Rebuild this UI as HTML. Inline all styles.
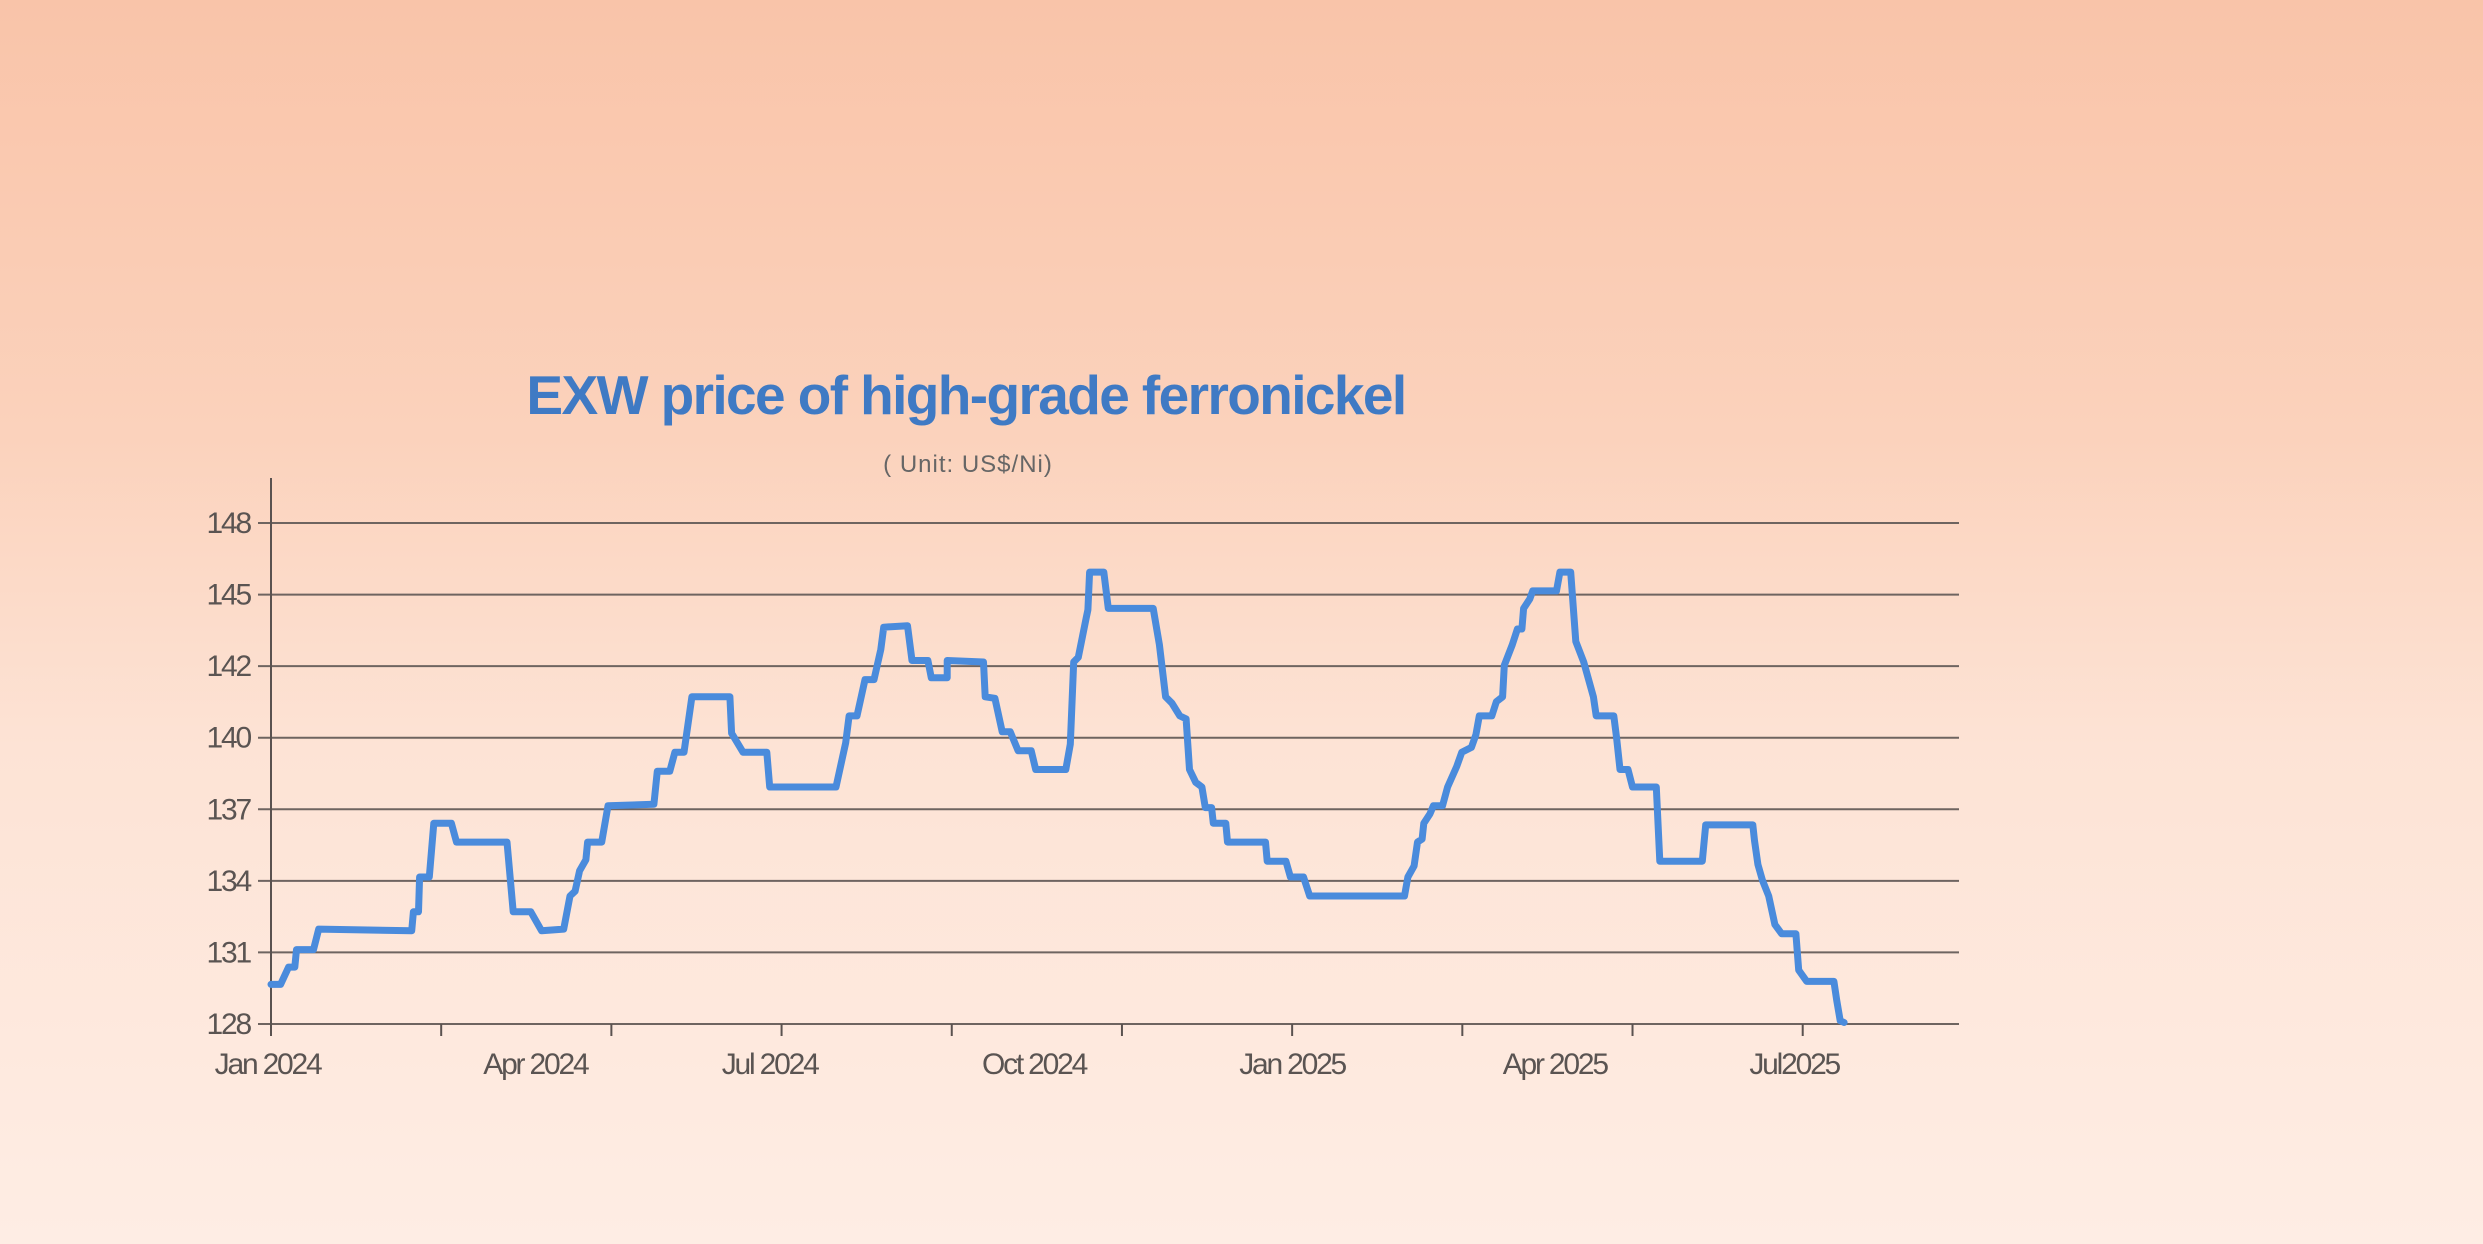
<!DOCTYPE html>
<html><head><meta charset="utf-8"><style>
html,body{margin:0;padding:0}
body{width:2483px;height:1244px;overflow:hidden;background:linear-gradient(180deg,#f9c4a9 0%,#fbd2bc 35%,#fde3d5 60%,#feede4 100%);font-family:"Liberation Sans",sans-serif}
svg{position:absolute;left:0;top:0}
</style></head><body>
<svg id="chart" width="2483" height="1244">
<text x="966" y="414" text-anchor="middle" font-size="55" font-weight="bold" fill="#3f7ac4" letter-spacing="-1.6">EXW price of high-grade ferronickel</text>
<text x="968" y="472" text-anchor="middle" font-size="24" fill="#666" letter-spacing="1">( Unit: US$/Ni)</text>
<g id="grid"></g><g id="axes"></g><g id="series"></g>
</svg>
<script>
const yTickLabels=["128","131","134","137","140","142","145","148"];
const xLabels=["Jan 2024","Apr 2024","Jul 2024","Oct 2024","Jan 2025","Apr 2025","Jul2025"];
const xLabelMonths=[-0.06,4.66,8.79,13.45,18.0,22.63,26.85];
const xTickMonths=[0,3,6,9,12,15,18,21,24,27];
const months=[0,0.17,0.31,0.42,0.45,0.75,0.84,2.48,2.51,2.60,2.62,2.79,2.87,3.18,3.27,4.16,4.27,4.58,4.77,5.16,5.27,5.36,5.44,5.55,5.58,5.83,5.94,6.75,6.81,7.03,7.12,7.28,7.42,8.09,8.12,8.32,8.74,8.79,9.96,10.13,10.19,10.33,10.47,10.63,10.75,10.80,11.22,11.30,11.58,11.64,11.92,11.92,12.56,12.59,12.76,12.89,13.03,13.17,13.40,13.48,14.01,14.09,14.15,14.23,14.37,14.40,14.43,14.68,14.76,15.55,15.66,15.77,15.88,16.02,16.13,16.19,16.30,16.41,16.47,16.58,16.61,16.83,16.86,17.53,17.56,17.89,17.97,18.20,18.31,19.98,20.04,20.15,20.21,20.29,20.32,20.43,20.49,20.65,20.74,20.90,20.99,21.16,21.24,21.30,21.52,21.60,21.71,21.74,21.88,21.97,22.05,22.08,22.19,22.24,22.66,22.72,22.91,23.00,23.14,23.31,23.36,23.67,23.72,23.78,23.92,24.00,24.42,24.48,25.23,25.29,26.12,26.15,26.21,26.29,26.40,26.51,26.63,26.88,26.93,27.07,27.55,27.60,27.66,27.73];
const prices=[129.58,129.58,130.27,130.27,130.97,130.97,131.79,131.72,132.48,132.48,133.87,133.87,136.01,136.01,135.26,135.26,132.48,132.48,131.72,131.79,133.11,133.30,134.12,134.56,135.26,135.26,136.71,136.77,138.09,138.09,138.85,138.85,141.06,141.06,139.61,138.85,138.85,137.46,137.46,139.23,140.30,140.30,141.75,141.75,142.95,143.84,143.90,142.51,142.51,141.82,141.82,142.51,142.45,141.06,141.00,139.67,139.67,138.91,138.91,138.16,138.16,139.17,142.45,142.64,144.21,144.53,146.04,146.04,144.59,144.59,143.14,141.06,140.81,140.30,140.18,138.16,137.65,137.46,136.64,136.64,136.01,136.01,135.26,135.26,134.50,134.50,133.87,133.87,133.11,133.11,133.87,134.31,135.26,135.38,136.01,136.39,136.71,136.71,137.46,138.28,138.85,139.04,139.55,140.30,140.30,140.87,141.06,142.32,143.14,143.77,143.77,144.59,144.97,145.29,145.29,146.04,146.04,143.27,142.45,141.06,140.30,140.30,139.42,138.16,138.16,137.46,137.46,134.50,134.50,135.95,135.95,135.32,134.37,133.74,133.11,131.97,131.60,131.60,130.15,129.70,129.70,128.95,128.13,128.06];
const NS="http://www.w3.org/2000/svg";
const X0=271,MW=56.73,YB=1024,YT=523,V0=128,V1=148;
function xs(m){return X0+m*MW;}
function ys(v){return YB-(v-V0)/(V1-V0)*(YB-YT);}
function mk(tag,attrs,parent){const e=document.createElementNS(NS,tag);for(const k in attrs)e.setAttribute(k,attrs[k]);parent.appendChild(e);return e;}
const grid=document.getElementById('grid'),axes=document.getElementById('axes'),series=document.getElementById('series');
yTickLabels.forEach((lab,i)=>{
  const y=YB-i*(YB-YT)/(yTickLabels.length-1);
  const l=mk('line',{x1:258,x2:1959,y1:y,y2:y,stroke:'#6e6460','stroke-width':2},grid);
  
  
  const t=mk('text',{x:250,y:y+10,'text-anchor':'end','font-size':30,fill:'#5a5452','letter-spacing':-2.2},axes);
  t.textContent=lab;
  
  
});
const ax=mk('line',{x1:X0,x2:X0,y1:478,y2:1036,stroke:'#5a5250','stroke-width':2},axes);


xTickMonths.forEach(m=>{
  const tk=mk('line',{x1:xs(m),x2:xs(m),y1:YB,y2:1036,stroke:'#5a5250','stroke-width':2},axes);
  
  
});
xLabels.forEach((lab,i)=>{
  const t=mk('text',{x:xs(xLabelMonths[i]),y:1074,'text-anchor':'middle','font-size':30,fill:'#5a5452','letter-spacing':-2.2},axes);
  t.textContent=lab;
  
  
});
const pts=months.map((m,i)=>xs(m).toFixed(1)+','+ys(prices[i]).toFixed(1)).join(' ');
const pl=mk('polyline',{points:pts,fill:'none',stroke:'#4a8bdc','stroke-width':7,'stroke-linejoin':'round','stroke-linecap':'round'},series);


</script>
</body></html>
